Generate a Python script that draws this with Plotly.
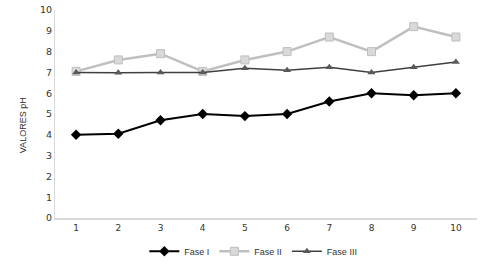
import plotly.graph_objects as go

categories = [1, 2, 3, 4, 5, 6, 7, 8, 9, 10]
fase1 = [4.0, 4.05, 4.7, 5.0, 4.9, 5.0, 5.6, 6.0, 5.9, 6.0]
fase2 = [7.05, 7.6, 7.9, 7.05, 7.6, 8.0, 8.7, 8.0, 9.2, 8.7]
fase3 = [7.0, 6.98, 7.0, 7.0, 7.2, 7.1, 7.25, 7.0, 7.25, 7.5]
yticks = [0, 1, 2, 3, 4, 5, 6, 7, 8, 9, 10]

fig = go.Figure()
fig.add_trace(go.Scatter(x=categories, y=fase1, name="Fase I", mode="lines+markers",
                         line=dict(color="#000000", width=2),
                         marker=dict(symbol="diamond", size=8, color="#000000")))
fig.add_trace(go.Scatter(x=categories, y=fase2, name="Fase II", mode="lines+markers",
                         line=dict(color="#bfbfbf", width=2.5),
                         marker=dict(symbol="square", size=8, color="#d9d9d9",
                                     line=dict(color="#bfbfbf", width=1))))
fig.add_trace(go.Scatter(x=categories, y=fase3, name="Fase III", mode="lines+markers",
                         line=dict(color="#404040", width=1.5),
                         marker=dict(symbol="triangle-up", size=7, color="#595959")))

fig.update_layout(
    width=491, height=265,
    margin=dict(l=55, r=14, t=10, b=47, autoexpand=False),
    paper_bgcolor="white", plot_bgcolor="white",
    font=dict(family="DejaVu Sans", size=9, color="#333333"),
    showlegend=True,
    legend=dict(orientation="h", x=0.47, xanchor="center", y=-0.16, yanchor="middle",
                font=dict(family="Liberation Sans", size=9, color="#333333"),
                itemwidth=30, tracegroupgap=0),
    annotations=[dict(text="VALORES pH", xref="paper", yref="paper", x=-0.074, y=0.445,
                      xanchor="center", yanchor="middle", textangle=-90, showarrow=False,
                      font=dict(family="Liberation Sans", size=9, color="#333333"))],
)
fig.update_xaxes(range=[0.5, 10.5], tickvals=categories, ticktext=[str(c) for c in categories],
                 showgrid=False, showline=True, linecolor="#d9d9d9", linewidth=1.5,
                 ticks="", ticklen=0, tickfont=dict(size=9, color="#333333"),
                 zeroline=False, automargin=False)
fig.update_yaxes(range=[0, 10], tickvals=yticks, showgrid=False, showline=True,
                 linecolor="#d9d9d9", linewidth=1, ticks="", zeroline=False,
                 tickfont=dict(size=9.5, color="#333333"), automargin=False)

fig.write_html("out.html", config={"displayModeBar": False},
               post_script="document.body.style.margin='0';")
